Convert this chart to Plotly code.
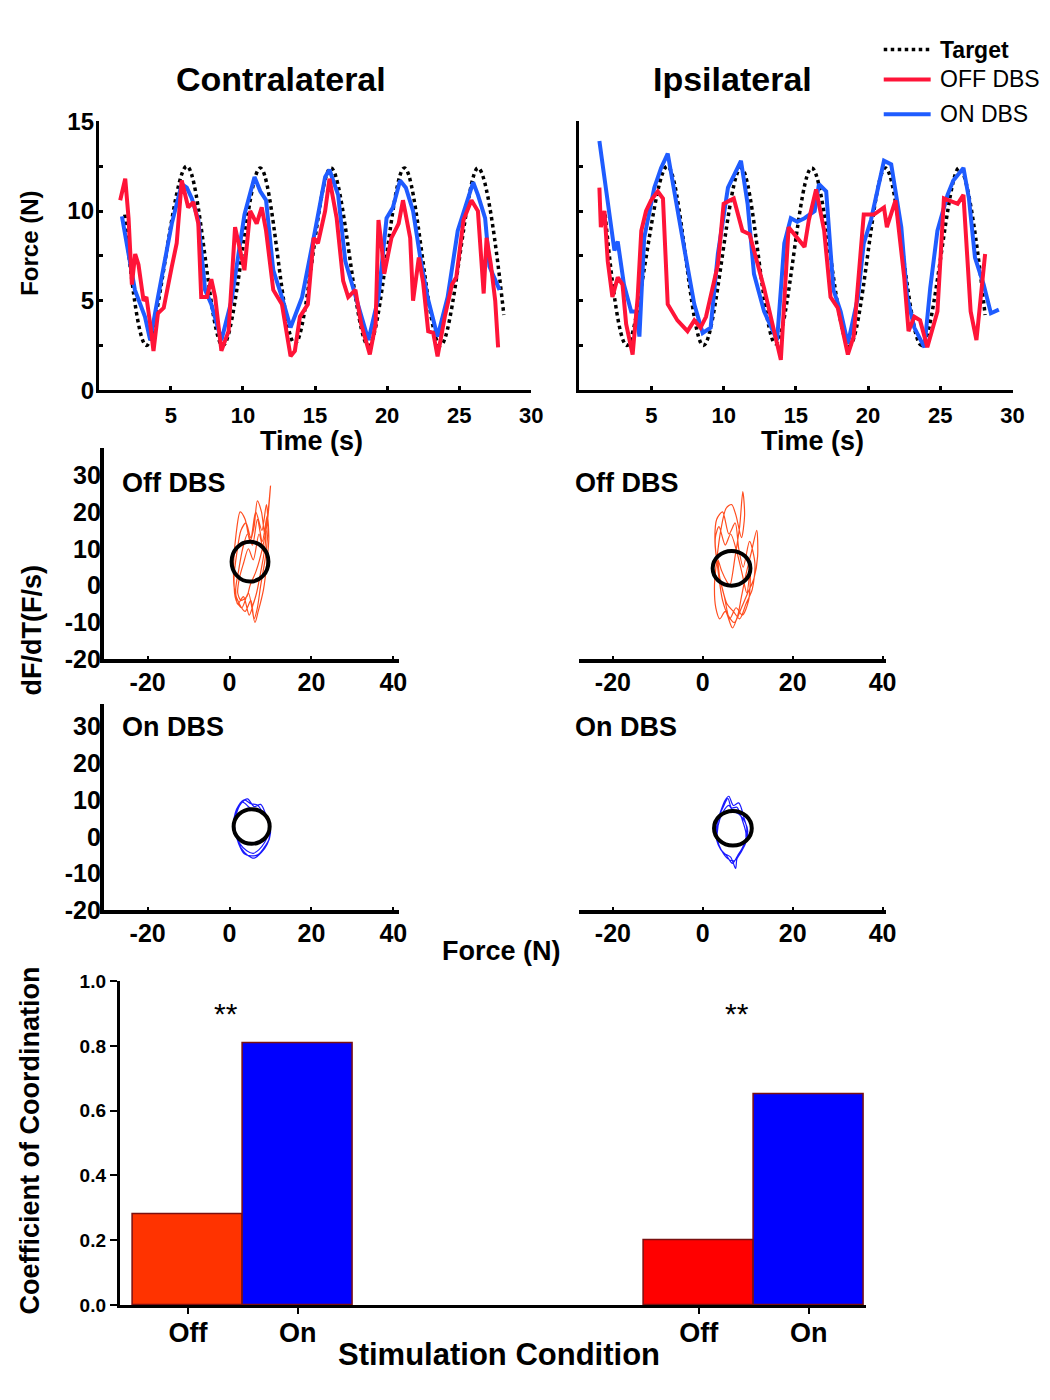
import plotly.graph_objects as go

# # DATA

# force tracking, contralateral hand (time s, force N)
target_t = [1.8, 3.3, 6.1, 8.6, 11.2, 13.6, 16.1, 18.7, 21.2, 23.7, 26.3, 28.1]
target_f = [9.8, 2.5, 12.5, 2.5, 12.4, 2.6, 12.4, 2.5, 12.4, 2.5, 12.4, 4.2]

contra_on_t = [1.6, 2.5, 3.2, 3.56, 4.1, 5.06, 5.75, 6.1, 6.45, 6.9, 7.37, 7.8, 8.5, 9.2, 10.1, 10.8,
               11.2, 11.6, 12.1, 12.7, 13.3, 14.1, 15.0, 15.7, 16.0, 16.6, 17.1, 17.8, 18.2, 18.7, 19.4,
               19.96, 20.4, 20.9, 21.3, 21.8, 22.3, 22.8, 23.5, 24.2, 24.9, 25.6, 25.97, 26.3, 26.8,
               27.1, 27.8]
contra_on_f = [9.7, 5.6, 4.1, 2.8, 5.2, 9.3, 11.5, 11.3, 10.7, 9.5, 5.6, 4.8, 2.8, 5.0, 9.8, 11.9,
               11.1, 10.6, 6.7, 5.2, 3.5, 5.2, 8.9, 11.9, 12.3, 10.9, 7.2, 5.2, 4.1, 2.8, 5.2,
               9.6, 10.2, 11.7, 11.3, 10.0, 7.4, 5.2, 3.0, 5.2, 8.9, 10.7, 11.6, 10.9, 9.6,
               6.9, 5.6]

contra_off_t = [1.48, 1.83, 2.06, 2.29, 2.52, 2.75, 3.1, 3.3, 3.56, 3.79, 4.1, 4.5, 5.06, 5.4, 5.75,
                6.2, 6.56, 6.9, 7.1, 7.5, 7.8, 8.07, 8.5, 9.0, 9.45, 9.8, 10.1, 10.5, 10.95, 11.3,
                11.6, 12.1, 12.7, 13.3, 13.6, 13.95, 14.5, 14.9, 15.2, 15.7, 16.0, 16.5, 16.95,
                17.3, 17.8, 18.2, 18.8, 19.2, 19.4, 19.6, 19.8, 20.3, 20.8, 21.1, 21.6, 21.8, 22.2,
                22.5, 22.85, 23.2, 23.5, 24.0, 24.5, 24.8, 25.3, 25.85, 26.3, 26.7, 26.9, 27.2,
                27.5, 27.7]
contra_off_f = [10.6, 11.8, 9.6, 5.9, 7.6, 7.0, 5.0, 5.2, 3.7, 2.2, 4.3, 4.6, 6.9, 8.2, 11.7,
                10.2, 10.5, 9.3, 5.2, 5.2, 6.2, 5.2, 2.2, 3.3, 9.1, 7.8, 6.7, 10.0, 9.3, 10.2,
                8.9, 5.6, 4.8, 1.9, 2.2, 4.1, 4.8, 8.5, 8.2, 10.0, 11.8, 9.6, 6.1,
                5.2, 5.6, 3.7, 2.0, 3.7, 9.5, 8.2, 6.5, 8.5, 9.3, 10.6, 8.5, 5.0, 7.4,
                6.0, 3.3, 3.2, 1.9, 4.1, 5.9, 6.3, 9.5, 10.6, 10.0, 5.4, 8.5, 7.0,
                5.0, 2.4]

# force tracking, ipsilateral hand
ipsi_on_t = [1.4, 2.2, 2.44, 2.67, 3.1, 3.6, 3.94, 4.17, 4.5, 5.2, 5.67, 6.13, 6.6, 7.3, 7.97, 8.55,
             9.1, 9.6, 10.3, 11.2, 11.66, 12.1, 12.8, 13.7, 14.2, 14.65, 15.1, 15.6, 16.3, 16.6,
             17.1, 17.6, 18.1, 18.6, 19.3, 19.7, 20.2, 20.6, 21.1, 21.6, 21.9, 22.3, 22.7, 23.2,
             23.9, 24.3, 24.8, 25.5, 25.9, 26.6, 26.98, 27.4, 28.0, 28.5, 29.05]
ipsi_on_f = [13.9, 9.1, 7.8, 8.3, 5.9, 4.4, 4.4, 3.0, 8.5, 11.3, 12.4, 13.2, 10.9, 7.8, 4.8, 3.2,
             3.5, 7.6, 11.3, 12.8, 10.4, 6.5, 4.4, 2.8, 8.2, 9.6, 9.4, 9.6, 10.0, 11.5,
             11.1, 5.6, 4.4, 2.6, 5.2, 8.2, 9.5, 10.9, 12.8, 12.6, 11.1, 9.1, 5.2, 3.5,
             2.4, 5.7, 8.9, 10.9, 11.7, 12.4, 10.7, 7.4, 5.9, 4.3, 4.5]

ipsi_off_t = [1.4, 1.5, 1.75, 1.98, 2.3, 2.67, 3.0, 3.25, 3.7, 4.05, 4.3, 4.63, 4.98, 5.44, 5.8,
              6.13, 6.8, 7.5, 7.97, 8.4, 8.78, 9.6, 10.0, 10.7, 11.3, 11.8, 12.8, 13.96, 14.5,
              15.1, 15.6, 15.9, 16.4, 16.96, 17.4, 17.9, 18.6, 19.0, 19.7, 20.4, 21.1, 21.3, 21.9,
              22.5, 22.8, 23.2, 23.6, 24.1, 24.8, 25.25, 26.2, 26.6, 27.1, 27.5, 27.9, 28.1]
ipsi_off_f = [11.3, 9.1, 10.0, 7.2, 5.2, 6.3, 5.9, 3.7, 2.0, 5.2, 8.9, 10.0, 10.6, 11.1, 10.7,
              4.8, 3.9, 3.3, 3.9, 3.5, 4.1, 7.0, 10.4, 10.7, 8.9, 8.7, 5.7, 1.7, 9.1,
              8.5, 8.0, 9.5, 11.2, 8.9, 5.2, 4.6, 2.0, 3.0, 9.8, 9.8, 10.2, 9.1, 10.6,
              6.3, 3.3, 4.1, 3.9, 2.4, 4.4, 10.7, 10.4, 10.9, 4.4, 2.8, 5.9, 7.6]

# phase plane loops (force N, dF/dT)
off_contra_f = [5.0, 6.5, 8.0, 9.2, 9.8, 10.0, 9.5, 8.6, 7.8, 6.8, 6.0, 5.0, 3.8, 2.6, 1.6, 1.0,
                1.2, 2.4, 3.8, 5.2, 6.0, 6.8, 7.6, 8.8, 9.4, 9.0, 7.9, 6.4, 5.2, 4.0, 2.8, 1.8,
                1.1, 1.6, 3.0, 4.6, 6.2, 7.0, 8.3, 9.1, 9.6, 9.2, 8.0, 6.8, 5.6, 4.4, 3.2, 2.2,
                1.5, 2.0, 3.4, 4.8, 5.8, 6.6, 7.5, 8.6, 9.0, 8.4, 7.2, 5.8, 4.6, 3.4, 2.4, 2.0,
                2.8, 4.2, 5.0]
off_contra_d = [0.0, 4.0, 10.0, 17.0, 24.0, 27.0, 21.0, 14.0, 20.0, 23.0, 16.0, 12.0, 18.0, 20.0,
                14.0, 6.0, -1.0, -5.0, -7.0, -4.0, -9.0, -6.0, 0.0, 8.0, 16.0, 22.0, 15.0, 20.0,
                13.0, 17.0, 15.0, 9.0, 2.0, -4.0, -6.0, -2.0, -10.0, -7.0, -1.0, 6.0, 13.0, 19.0,
                12.0, 18.0, 11.0, 14.0, 10.0, 4.0, -1.0, -5.0, -3.0, -8.0, -5.0, -2.0, 3.0, 10.0,
                15.0, 9.0, 14.0, 7.0, 10.0, 6.0, 2.0, -2.0, -4.0, -3.0, 0.0]

off_ipsi_f = [6.0, 7.2, 8.2, 8.9, 9.3, 8.6, 7.4, 6.4, 5.2, 4.0, 3.2, 2.6, 2.9, 3.8, 5.0, 6.6, 7.8,
              8.6, 9.6, 10.8, 12.0, 12.2, 11.4, 10.0, 8.6, 7.0, 5.6, 4.4, 3.4, 2.7, 3.1, 4.4, 5.8,
              7.2, 8.0, 9.0, 10.4, 11.6, 11.0, 9.6, 8.2, 6.8, 5.4, 4.2, 3.2, 2.8, 3.6, 5.0, 6.2,
              7.6, 8.8, 9.8, 10.6, 10.2, 8.8, 7.4, 6.0, 4.8, 3.8, 3.4, 4.2, 5.4, 6.0]
off_ipsi_d = [0.0, 8.0, 16.0, 25.5, 19.0, 13.0, 19.0, 22.0, 21.0, 15.0, 8.0, 0.0, -6.0, -9.0, -7.0,
              -11.5, -8.0, -3.0, 3.0, 9.0, 15.0, 8.0, 2.0, -2.0, -6.0, -10.0, -8.0, -4.0, 4.0, 12.0,
              18.0, 20.0, 14.0, 17.0, 10.0, 5.0, 12.0, 6.0, -1.0, -5.0, -9.0, -7.0, -5.0, 0.0, 6.0,
              13.0, 16.0, 11.0, 14.0, 9.0, 3.0, -2.0, 5.0, -4.0, -8.0, -6.0, -9.0, -3.0, 2.0, 7.0,
              4.0, 1.0, 0.0]

on_contra_f = [5.4, 7.5, 9.2, 9.8, 9.4, 8.6, 7.2, 5.8, 4.2, 2.6, 1.6, 1.0, 1.4, 2.2, 3.6, 5.2, 6.8,
               8.4, 9.6, 10.0, 9.2, 7.8, 6.0, 4.4, 2.8, 1.8, 1.2, 1.6, 2.8, 4.4, 6.0, 7.6, 9.0, 9.8,
               9.6, 8.4, 7.0, 5.2, 3.6, 2.2, 1.4, 1.1, 1.8, 3.2, 4.8, 5.4]
on_contra_d = [7.6, 7.0, 5.5, 3.0, 0.5, -1.5, -3.5, -4.5, -3.8, -2.0, 0.5, 3.5, 6.5, 8.5, 10.0, 9.0,
               8.6, 6.0, 4.0, 1.0, -2.0, -4.2, -5.8, -5.0, -3.0, -0.5, 2.5, 6.0, 9.0, 10.3, 8.2, 8.8,
               5.6, 2.2, -0.8, -3.0, -4.8, -5.2, -4.6, -1.8, 1.5, 4.5, 7.5, 9.4, 8.0, 7.6]

on_ipsi_f = [6.7, 8.2, 9.4, 10.0, 9.6, 8.6, 7.6, 7.3, 6.2, 4.8, 3.6, 3.0, 3.2, 4.0, 5.0, 5.8, 6.8,
             8.0, 9.2, 9.8, 9.0, 7.8, 6.6, 5.2, 4.0, 3.1, 3.0, 3.6, 4.6, 5.6, 6.4, 7.6, 8.8, 9.6,
             9.4, 8.2, 7.0, 5.6, 4.2, 3.3, 3.4, 4.4, 5.8, 6.7]
on_ipsi_d = [7.0, 6.0, 4.0, 1.5, -1.5, -4.0, -6.0, -8.6, -5.5, -4.5, -2.5, 0.5, 3.5, 7.0, 10.0, 11.0,
             8.5, 9.2, 5.0, 2.0, -2.5, -5.0, -7.2, -5.0, -3.5, -1.0, 2.0, 5.5, 8.2, 10.4, 7.8, 8.0,
             4.5, 1.0, -2.0, -4.6, -6.5, -6.0, -3.8, -1.0, 3.0, 6.5, 8.5, 7.0]

# reference circles: centre force, centre dF/dT, radius force, radius dF/dT
circle_off_contra = [5.0, 6.5, 4.5, 5.4]
circle_off_ipsi = [6.4, 4.7, 4.2, 4.7]
circle_on_contra = [5.4, 2.8, 4.4, 4.7]
circle_on_ipsi = [6.7, 2.3, 4.2, 4.7]

phase_ticks = [-20, 0, 20, 40]
phase_tick_text = ['-20', '0', '20', '40']
dfdt_ticks = [-20, -10, 0, 10, 20, 30]
dfdt_tick_text = ['-20', '-10', '0', '10', '20', '30']

# coefficient of coordination
bar_groups = ['Contralateral', 'Ipsilateral']
bar_conditions = ['Off', 'On']
coord_values = [[0.28, 0.81], [0.20, 0.65]]
sig_labels = ['**', '**']

# # FIGURE

W, H = 1050, 1400
FONT = 'Liberation Sans, Arial, sans-serif'
RED = '#ff1438'
BLUE = '#1f5cff'


# the page shows the figure slightly shrunk and offset; map wanted screen pixels to layout pixels
def sx(x):
    return (x - 6) / 0.99


def sy(y):
    return (y - 20.3) / 0.9836


def dx(a, b):
    return [sx(a) / W, sx(b) / W]


def dy(top, bottom):
    return [1 - sy(bottom) / H, 1 - sy(top) / H]


def px(x):
    return sx(x) / W


def py(y):
    return 1 - sy(y) / H


fig = go.Figure()

# time series panels
for xa, ya, t_on, f_on, t_off, f_off in [('x', 'y', contra_on_t, contra_on_f, contra_off_t, contra_off_f),
                                         ('x2', 'y2', ipsi_on_t, ipsi_on_f, ipsi_off_t, ipsi_off_f)]:
    fig.add_trace(go.Scatter(x=target_t, y=target_f, mode='lines',
                             line=dict(color='black', width=3.5, dash='dot', shape='spline', smoothing=1.0),
                             xaxis=xa, yaxis=ya, showlegend=False))
    fig.add_trace(go.Scatter(x=t_on, y=f_on, mode='lines', line=dict(color=BLUE, width=4),
                             xaxis=xa, yaxis=ya, showlegend=False))
    fig.add_trace(go.Scatter(x=t_off, y=f_off, mode='lines', line=dict(color=RED, width=4),
                             xaxis=xa, yaxis=ya, showlegend=False))

# phase plane panels
phase = [('x3', 'y3', off_contra_f, off_contra_d, '#ff4d1f', circle_off_contra),
         ('x4', 'y4', off_ipsi_f, off_ipsi_d, '#ff4d1f', circle_off_ipsi),
         ('x5', 'y5', on_contra_f, on_contra_d, '#1a1aff', circle_on_contra),
         ('x6', 'y6', on_ipsi_f, on_ipsi_d, '#1a1aff', circle_on_ipsi)]
for xa, ya, f, d, col, circ in phase:
    fig.add_trace(go.Scatter(x=f, y=d, mode='lines', line=dict(color=col, width=1.2, shape='spline', smoothing=0.8),
                             xaxis=xa, yaxis=ya, showlegend=False))
    cx, cy, rx, ry = circ
    fig.add_shape(type='circle', xref=xa, yref=ya, x0=cx - rx, x1=cx + rx, y0=cy - ry, y1=cy + ry,
                  line=dict(color='black', width=4))

# bar chart
group_gap = 4.65
bar_x, bar_y, bar_c, tick_x, tick_t = [], [], [], [], []
off_colors = ['#ff3300', '#ff0000']
for g, vals in enumerate(coord_values):
    for c, v in enumerate(vals):
        bar_x.append(g * group_gap + c)
        bar_y.append(v)
        bar_c.append(off_colors[g] if c == 0 else '#0000ff')
        tick_x.append(g * group_gap + c)
        tick_t.append(bar_conditions[c])
fig.add_trace(go.Bar(x=bar_x, y=bar_y, width=1.0, marker=dict(color=bar_c, line=dict(color='#7a1010', width=1.5)),
                     xaxis='x7', yaxis='y7', showlegend=False))
for g, s in enumerate(sig_labels):
    fig.add_annotation(x=g * group_gap + 0.35, y=0.9, xref='x7', yref='y7', text=s, showarrow=False,
                       font=dict(family=FONT, size=30, color='black'))

# axes
top_tick = dict(family=FONT, size=22, color='black', weight='bold')
phase_tick = dict(family=FONT, size=25, color='black', weight='bold')
base = dict(showgrid=False, zeroline=False, showline=True, linecolor='black', color='black')

layout = dict(
    width=W, height=H, margin=dict(l=0, r=0, t=0, b=0),
    paper_bgcolor='white', plot_bgcolor='white', font=dict(family=FONT, color='black'),
    bargap=0,
)

for i, xd in enumerate([(97, 530), (578, 1012)]):
    n = '' if i == 0 else '2'
    layout['xaxis' + n] = dict(base, domain=dx(*xd), range=[0, 30], anchor='y' + n, linewidth=3,
                               tickvals=[5, 10, 15, 20, 25, 30], ticks='inside', ticklen=4, tickwidth=3,
                               tickfont=top_tick, ticklabelstandoff=3)
    layout['yaxis' + n] = dict(base, domain=dy(120, 390), range=[0, 15], anchor='x' + n, linewidth=3,
                               tickvals=[0, 5, 10, 15], ticks='inside', ticklen=4, tickwidth=3,
                               minor=dict(dtick=2.5, ticks='inside', ticklen=4, tickwidth=3, tickcolor='black'),
                               tickfont=dict(top_tick, size=24), showticklabels=(i == 0), ticklabelstandoff=-3)

phase_axes = [('3', (102, 398), (-30.7, 41.5), (448, 660), (-20, 37.3), True),
              ('4', (578, 885), (-27.5, 40.7), (448, 660), (-20, 37.3), False),
              ('5', (102, 398), (-30.7, 41.5), (705, 912), (-20, 36), True),
              ('6', (578, 885), (-27.5, 40.7), (705, 912), (-20, 36), False)]
for n, xd, xr, yd, yr, show_y in phase_axes:
    layout['xaxis' + n] = dict(base, domain=dx(*xd), range=list(xr), anchor='y' + n, linewidth=4,
                               tickvals=phase_ticks, ticktext=phase_tick_text, ticks='inside', ticklen=3,
                               tickwidth=2, tickfont=phase_tick, ticklabelstandoff=-2)
    layout['yaxis' + n] = dict(base, domain=dy(*yd), range=list(yr), anchor='x' + n, linewidth=4,
                               tickvals=dfdt_ticks, ticktext=dfdt_tick_text, ticks='', tickfont=phase_tick,
                               showline=show_y, showticklabels=show_y, ticklabelstandoff=-6)

layout['xaxis7'] = dict(base, domain=dx(118, 865), range=[-0.62, 6.17], anchor='y7', linewidth=3,
                        tickvals=tick_x, ticktext=tick_t, ticks='outside', ticklen=6, tickwidth=1.5,
                        tickfont=dict(family=FONT, size=27, color='black', weight='bold'),
                        ticklabelstandoff=-4)
layout['yaxis7'] = dict(base, domain=dy(983, 1308), range=[0, 1.0], anchor='x7', linewidth=3,
                        tickvals=[0, 0.2, 0.4, 0.6, 0.8, 1.0], tickformat='.1f', ticks='outside', ticklen=7,
                        tickwidth=2, tickfont=dict(family=FONT, size=19, color='black', weight='bold'))

fig.update_layout(**layout)

# titles and labels
labels = [
    ('Contralateral', 279, 78, 34, 0, 'center'),
    ('Ipsilateral', 732, 78, 34, 0, 'center'),
    ('Time (s)', 310, 441, 27, 0, 'center'),
    ('Time (s)', 812, 441, 27, 0, 'center'),
    ('Force (N)', 28, 242, 24, -90, 'center'),
    ('dF/dT(F/s)', 30, 631, 27, -90, 'center'),
    ('Off DBS', 118, 483, 27, 0, 'left'),
    ('Off DBS', 572, 483, 27, 0, 'left'),
    ('On DBS', 118, 728, 27, 0, 'left'),
    ('On DBS', 572, 728, 27, 0, 'left'),
    ('Force (N)', 500, 953, 27, 0, 'center'),
    ('Coefficient of Coordination', 28, 1143, 27, -90, 'center'),
    ('Stimulation Condition', 498, 1358, 31, 0, 'center'),
]
for text, x, y, size, ang, align in labels:
    fig.add_annotation(x=px(x), y=py(y), xref='paper', yref='paper', text=text, showarrow=False,
                       textangle=ang, xanchor=align if ang == 0 else 'center', yanchor='middle',
                       font=dict(family=FONT, size=size, color='black', weight='bold'))

# legend drawn by hand
legend_items = [('Target', 'black', 'dot', 3.5, 48, 'bold'),
                ('OFF DBS', RED, 'solid', 4, 78, 'normal'),
                ('ON DBS', BLUE, 'solid', 4, 113, 'normal')]
for text, col, dash, w, y, weight in legend_items:
    fig.add_shape(type='line', xref='paper', yref='paper', x0=px(883), x1=px(930), y0=py(y), y1=py(y),
                  line=dict(color=col, width=w, dash=dash))
    fig.add_annotation(x=px(937), y=py(y), xref='paper', yref='paper', text=text, showarrow=False,
                       xanchor='left', yanchor='middle',
                       font=dict(family=FONT, size=23, color='black', weight=weight))

fig.write_html('out.html')
